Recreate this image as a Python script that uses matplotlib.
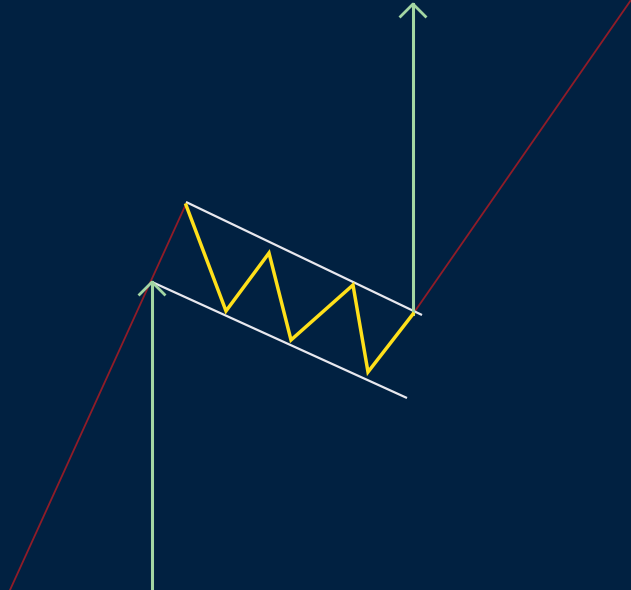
import matplotlib.pyplot as plt
import numpy as np

# coordinates (pixel-like units, y grows downwards)
trend_in_x = [10, 186]
trend_in_y = [590, 204]
trend_out_x = [413, 631]
trend_out_y = [314, 0]

zigzag_x = [186, 226, 269, 291, 353, 368, 413]
zigzag_y = [205, 311, 253, 340, 285, 372, 314]

upper_x = [186, 422]
upper_y = [202, 315]
lower_x = [152, 407]
lower_y = [282, 398]

pole_x = [152, 152]
pole_y = [590, 282]
target_x = [413, 413]
target_y = [314, 4]

bg = '#012141'
green = '#a3d6a3'

fig = plt.figure(figsize=(6.31, 5.90), dpi=100)
fig.patch.set_facecolor(bg)
ax = fig.add_axes([0, 0, 1, 1])
ax.set_facecolor(bg)
ax.set_xlim(0, 631)
ax.set_ylim(590, 0)
ax.axis('off')

ax.plot(trend_in_x, trend_in_y, color='#901c28', lw=1.3)
ax.plot(trend_out_x, trend_out_y, color='#901c28', lw=1.3)

ax.plot(upper_x, upper_y, color='#e8e8ee', lw=1.6, solid_capstyle='butt')
ax.plot(lower_x, lower_y, color='#e8e8ee', lw=1.6, solid_capstyle='butt')

for xs, ys in [(pole_x, pole_y), (target_x, target_y)]:
    ax.plot(xs, ys, color=green, lw=2.2)
    tip = (xs[1], ys[1])
    ax.plot([tip[0] - 12.5, tip[0], tip[0] + 12.5],
            [tip[1] + 12.5, tip[1], tip[1] + 12.5], color=green, lw=2.0)

ax.plot(zigzag_x, zigzag_y, color='#ffe01a', lw=2.5, solid_joinstyle='miter')

fig.savefig('out.png', dpi=100, facecolor=bg)
